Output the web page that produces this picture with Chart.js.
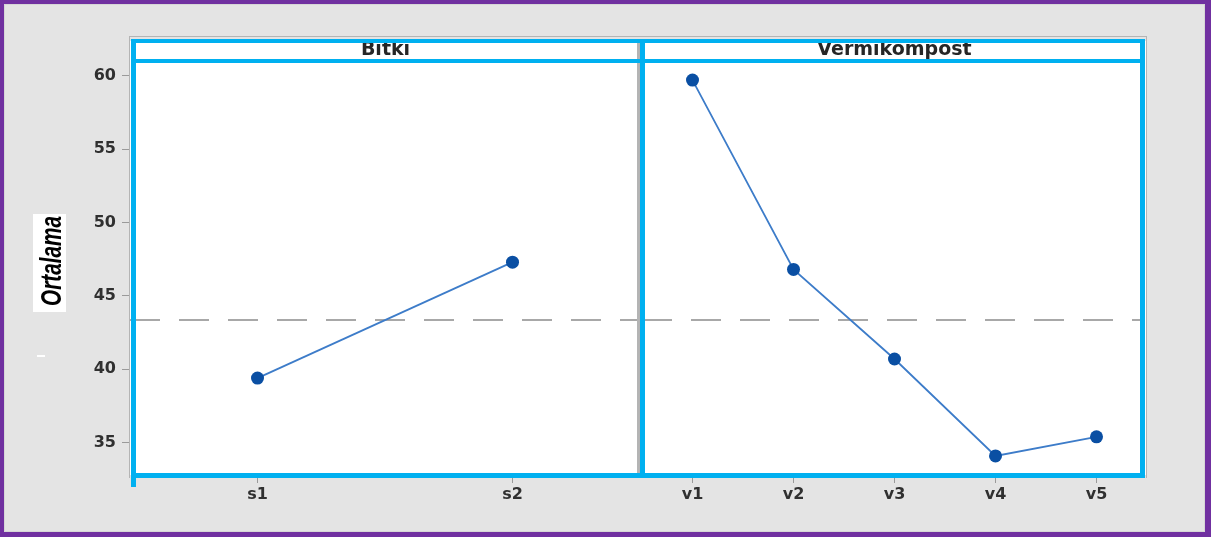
<!DOCTYPE html>
<html>
<head>
<meta charset="utf-8">
<script src="https://cdn.jsdelivr.net/npm/chart.js@4.4.0/dist/chart.umd.min.js"></script>
<style>
  html, body { margin: 0; padding: 0; }
  body { width: 1211px; height: 537px; background: #7030a0; position: relative; overflow: hidden; }
  #frame { position: absolute; left: 4px; top: 4px; width: 1201px; height: 528px; background: #e4e4e4;
           box-sizing: border-box; border: 1px solid #d6d6d6; }
  canvas { position: absolute; top: 0; }
  #cLeft { left: 0; }
  #cRight { left: 640px; }
</style>
</head>
<body>
<div id="frame"></div>
<canvas id="cLeft" width="640" height="537"></canvas>
<canvas id="cRight" width="508" height="537"></canvas>
<script>
// Main effects data
const bitkiLabels = ['s1', 's2'];
const bitkiMeans = [39.4, 47.3];
const vermiLabels = ['v1', 'v2', 'v3', 'v4', 'v5'];
const vermiMeans = [59.7, 46.8, 40.7, 34.1, 35.4];
const grandMean = 43.35;
const yTickValues = [35, 40, 45, 50, 55, 60];
const yMin = 32.8;
const yMax = 61.0;

const CYAN = '#00b0f0';
const GRAY_EDGE = '#b4b4b4';
const TICK_FONT = { family: '"DejaVu Sans", sans-serif', size: 16, weight: 'bold' };

// white plot + header band, dashed mean line, cyan frame and header title
function panelPlugin(title, isLeft) {
  return {
    id: 'panel',
    beforeDraw(chart) {
      const { ctx, chartArea: a } = chart;
      ctx.save();
      ctx.fillStyle = '#fff';
      ctx.fillRect(a.left, a.top - 20, a.right - a.left, a.bottom - a.top + 20);
      ctx.restore();
    },
    beforeDatasetsDraw(chart) {
      const { ctx, chartArea: a, scales: { y } } = chart;
      const yy = y.getPixelForValue(grandMean);
      ctx.save();
      ctx.strokeStyle = '#a8a8a8';
      ctx.lineWidth = 2;
      ctx.setLineDash([30, 19]);
      ctx.beginPath();
      ctx.moveTo(a.left, yy);
      ctx.lineTo(isLeft ? a.right : a.right - 7, yy);
      ctx.stroke();
      ctx.restore();
    },
    afterDraw(chart) {
      const { ctx, chartArea: a } = chart;
      // panel extent in this canvas
      const x0 = isLeft ? a.left + 1 : 0;
      const x1 = isLeft ? a.right : a.right - 2;
      const top = a.top - 22;
      ctx.save();
      // outer gray edges
      ctx.fillStyle = GRAY_EDGE;
      const gx = isLeft ? x0 - 2 : 0;
      ctx.fillRect(gx, top - 3, a.right - gx, 1);
      if (isLeft) {
        ctx.fillRect(x0 - 2, top - 3, 1, a.bottom - top + 6);
        ctx.fillRect(a.right - 3, top, 3, a.bottom - top);
      } else {
        ctx.fillRect(a.right - 1, top - 3, 1, a.bottom - top + 6);
      }
      // header title (its top gets clipped by the cyan line)
      ctx.fillStyle = '#262626';
      ctx.font = 'bold 19px "DejaVu Sans", sans-serif';
      ctx.textAlign = 'center';
      ctx.textBaseline = 'alphabetic';
      ctx.fillText(title, (x0 + x1) / 2 + (isLeft ? 0 : 2), a.top - 6);
      // cyan frame
      ctx.fillStyle = CYAN;
      ctx.fillRect(x0, top, x1 - x0, 4);
      ctx.fillRect(x0, a.top - 2, x1 - x0, 4);
      ctx.fillRect(x0, a.bottom - 2, x1 - x0, 5);
      if (isLeft) {
        ctx.fillRect(x0, top, 5, a.bottom - top + 12);
      } else {
        ctx.fillRect(0, top, 5, a.bottom - top + 3);
        ctx.fillRect(x1 - 5, top, 5, a.bottom - top + 3);
      }
      ctx.restore();
    }
  };
}

// y axis title in a white box
const yTitlePlugin = {
  id: 'yTitle',
  afterDraw(chart) {
    const ctx = chart.ctx;
    ctx.save();
    ctx.fillStyle = '#fff';
    ctx.fillRect(33, 214, 33, 98);
    ctx.fillRect(37, 355, 8, 2);
    ctx.translate(61, 261);
    ctx.rotate(-Math.PI / 2);
    ctx.font = 'italic bold 29px "Liberation Sans", Arial, sans-serif';
    const w = ctx.measureText('Ortalama').width;
    ctx.scale(90 / w, 1);
    ctx.fillStyle = '#000';
    ctx.textAlign = 'center';
    ctx.textBaseline = 'alphabetic';
    ctx.fillText('Ortalama', 0, 0);
    ctx.restore();
  }
};

function makeChart(id, labels, values, title, isLeft) {
  const ctx = document.getElementById(id).getContext('2d');
  return new Chart(ctx, {
    type: 'line',
    data: {
      labels,
      datasets: [{
        data: values,
        borderColor: '#3d7cc9',
        borderWidth: 1.8,
        pointRadius: 6.5,
        pointBackgroundColor: '#0a4fa3',
        pointBorderColor: '#0a4fa3',
        pointBorderWidth: 0,
        tension: 0,
        fill: false
      }]
    },
    options: {
      responsive: false,
      animation: false,
      devicePixelRatio: 1,
      events: [],
      layout: { autoPadding: false, padding: { top: 61, left: isLeft ? 0 : 2, right: isLeft ? 0 : 1, bottom: 0 } },
      plugins: { legend: { display: false }, tooltip: { enabled: false } },
      scales: {
        x: {
          type: 'category',
          offset: true,
          grid: { display: true, drawOnChartArea: false, drawTicks: true, tickLength: 8, color: '#9a9a9a' },
          border: { display: false },
          ticks: { color: '#303030', font: TICK_FONT, padding: 2, maxRotation: 0 },
          afterFit: s => { s.height = 62; }
        },
        y: {
          display: isLeft,
          min: yMin,
          max: yMax,
          grid: { display: true, drawOnChartArea: false, drawTicks: true, tickLength: 8, color: '#9a9a9a' },
          border: { display: false },
          ticks: { color: '#303030', font: TICK_FONT, padding: 6 },
          afterBuildTicks: s => { s.ticks = yTickValues.map(v => ({ value: v })); },
          afterFit: s => { s.width = isLeft ? 130 : 0; }
        }
      }
    },
    plugins: isLeft ? [panelPlugin(title, true), yTitlePlugin] : [panelPlugin(title, false)]
  });
}

makeChart('cLeft', bitkiLabels, bitkiMeans, 'Bitki', true);
makeChart('cRight', vermiLabels, vermiMeans, 'Vermikompost', false);
</script>
</body>
</html>
